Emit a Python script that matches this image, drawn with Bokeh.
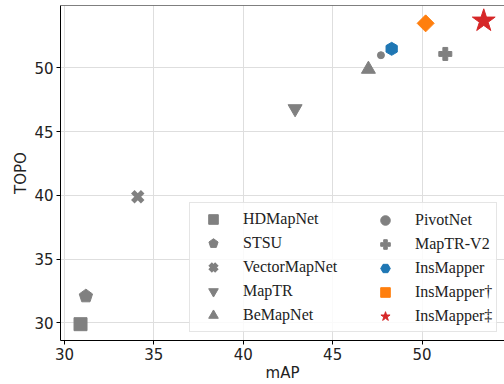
import numpy as np
from bokeh.plotting import figure
from bokeh.models import Range1d, Legend, LegendItem, Span, FixedTicker
from bokeh.embed import file_html
from bokeh.resources import INLINE

methods = ["HDMapNet", "STSU", "VectorMapNet", "MapTR", "BeMapNet",
           "PivotNet", "MapTR-V2", "InsMapper", "InsMapper†", "InsMapper‡"]
map_vals = [30.9, 31.2, 34.1, 42.9, 47.0, 47.7, 51.3, 48.3, 50.2, 53.45]
topo_vals = [29.9, 32.1, 39.9, 46.8, 49.9, 51.0, 51.1, 51.5, 53.5, 53.7]
x_ticks = [30, 35, 40, 45, 50]
y_ticks = [30, 35, 40, 45, 50]

GRAY = "#808080"
styles = {
    "HDMapNet": dict(marker="square", size=13, color=GRAY),
    "STSU": dict(marker="ngon", size=7, color=GRAY),
    "VectorMapNet": dict(marker="x", size=14, color=GRAY),
    "MapTR": dict(marker="inverted_triangle", size=14, color=GRAY),
    "BeMapNet": dict(marker="triangle", size=14, color=GRAY),
    "PivotNet": dict(marker="circle", size=7, color=GRAY),
    "MapTR-V2": dict(marker="plus", size=13, color=GRAY),
    "InsMapper": dict(marker="hex", size=13, color="#1f77b4"),
    "InsMapper†": dict(marker="diamond_sq", size=12, color="#ff7f0e"),
    "InsMapper‡": dict(marker="star", size=24, color="#d62728"),
}

p = figure(width=504, height=384, output_backend="svg", toolbar_location=None,
           x_range=Range1d(29.78, 54.61), y_range=Range1d(28.62, 54.90),
           min_border_left=60, min_border_right=0, min_border_top=5, min_border_bottom=44)
p.outline_line_color = None
p.background_fill_color = "white"

for ax in (p.xaxis[0], p.yaxis[0]):
    ax.major_label_text_font = "DejaVu Sans"
    ax.major_label_text_font_size = "15px"
    ax.major_label_text_color = "#222222"
    ax.axis_label_text_font = "DejaVu Sans"
    ax.axis_label_text_font_size = "15px"
    ax.axis_label_text_font_style = "normal"
    ax.axis_label_text_color = "#222222"
    ax.major_tick_in = 0
    ax.major_tick_out = 4
    ax.minor_tick_line_color = None
    ax.axis_line_color = "black"
    ax.major_tick_line_color = "black"
    ax.major_label_standoff = 3
    ax.axis_label_standoff = 1
p.xaxis.ticker = FixedTicker(ticks=x_ticks)
p.yaxis.ticker = FixedTicker(ticks=y_ticks)
p.xaxis.axis_label = "mAP"
p.yaxis.axis_label = "TOPO"
p.grid.grid_line_color = "#dedede"
p.grid.grid_line_width = 1

p.add_layout(Span(location=p.y_range.end, dimension="width", line_color="black", line_width=1))

renderers = {}
for name, mx, ty in zip(methods, map_vals, topo_vals):
    st = styles[name]
    src = dict(x=[mx], y=[ty])
    if st["marker"] == "ngon":
        r = p.ngon(x="x", y="y", source=src, radius=st["size"], radius_units="screen", n=5,
                   angle=0, fill_color=st["color"], line_color=st["color"])
    elif st["marker"] == "x":
        r = p.scatter(x="x", y="y", source=src, marker="x", size=st["size"],
                      line_color=st["color"], line_width=5)
    elif st["marker"] == "diamond_sq":
        r = p.scatter(x="x", y="y", source=src, marker="square", size=st["size"], angle=np.pi / 4,
                      fill_color=st["color"], line_color=st["color"])
    elif st["marker"] == "hex":
        r = p.scatter(x="x", y="y", source=src, marker="hex", size=st["size"], angle=np.pi / 2,
                      fill_color=st["color"], line_color=st["color"])
    else:
        r = p.scatter(x="x", y="y", source=src, marker=st["marker"], size=st["size"],
                      fill_color=st["color"], line_color=st["color"])
    renderers[name] = r

common = dict(glyph_width=38, glyph_height=24, label_height=24, spacing=0, padding=4,
              label_standoff=11, label_text_font="Liberation Serif", label_text_font_size="16px",
              label_text_color="#222222", margin=0)
leg1 = Legend(items=[LegendItem(label=m, renderers=[renderers[m]]) for m in methods[:5]],
              location=(129, 8), label_width=249, border_line_color="#cccccc",
              border_line_width=1, background_fill_alpha=0.85, **common)
leg2 = Legend(items=[LegendItem(label=m, renderers=[renderers[m]]) for m in methods[5:]],
              location=(306, 12), border_line_color=None, background_fill_alpha=0.0, **common)
p.add_layout(leg1)
p.add_layout(leg2)

open("out.html", "w").write(file_html(p, INLINE))
